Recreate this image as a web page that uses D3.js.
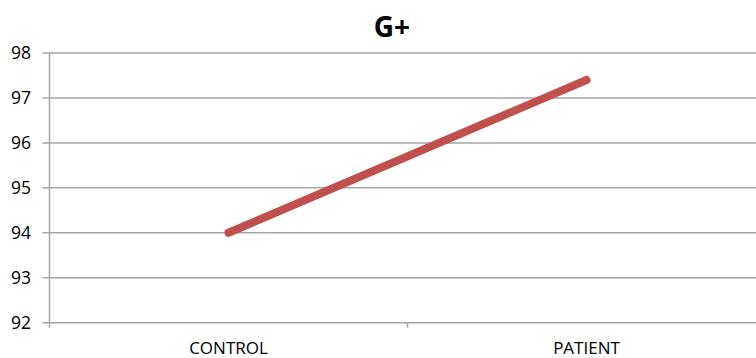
<!DOCTYPE html>
<html>
<head>
<meta charset="utf-8">
<script src="https://d3js.org/d3.v7.min.js"></script>
<style>
  body { margin: 0; background: #fff; }
  text { font-family: "Open Sans", "DejaVu Sans", sans-serif; fill: #000; }
</style>
</head>
<body>
<div id="vis"></div>
<script>
var categories = ["CONTROL", "PATIENT"];
var values = [94, 97.4];
var yTicks = [92, 93, 94, 95, 96, 97, 98];
var title = "G+";

var w = 756, h = 358;
var plotLeft = 49.5, plotRight = 765.5, plotTop = 53, plotBottom = 322.7;

var svg = d3.select("#vis").append("svg")
    .attr("width", w)
    .attr("height", h);

var x = d3.scaleBand().domain(categories).range([plotLeft, plotRight]);
var y = d3.scaleLinear().domain([92, 98]).range([plotBottom, plotTop]);

// gridlines
svg.append("g")
  .selectAll("line")
  .data(yTicks)
  .enter().append("line")
    .attr("x1", plotLeft - 7)
    .attr("x2", w)
    .attr("y1", function(d) { return y(d); })
    .attr("y2", function(d) { return y(d); })
    .attr("stroke", "#a6a6a6")
    .attr("stroke-width", 1.5);

// y axis line
svg.append("line")
    .attr("x1", plotLeft).attr("x2", plotLeft)
    .attr("y1", plotTop).attr("y2", plotBottom + 5)
    .attr("stroke", "#a6a6a6")
    .attr("stroke-width", 1.5);

// y labels
svg.append("g")
  .selectAll("text")
  .data(yTicks)
  .enter().append("text")
    .attr("x", 31)
    .attr("y", function(d) { return y(d); })
    .attr("dy", "0.35em")
    .attr("text-anchor", "end")
    .style("font-size", "17.5px")
    .text(function(d) { return d; });

// x ticks between categories
svg.append("g")
  .selectAll("line")
  .data(categories.slice(1))
  .enter().append("line")
    .attr("x1", function(d) { return x(d); })
    .attr("x2", function(d) { return x(d); })
    .attr("y1", plotBottom)
    .attr("y2", plotBottom + 5)
    .attr("stroke", "#a6a6a6")
    .attr("stroke-width", 1.5);

// x labels
svg.append("g")
  .selectAll("text")
  .data(categories)
  .enter().append("text")
    .attr("x", function(d) { return x(d) + x.bandwidth() / 2; })
    .attr("y", 354)
    .attr("text-anchor", "middle")
    .style("font-size", "17px")
    .text(function(d) { return d; });

// series line
var data = d3.zip(categories, values);
var line = d3.line()
    .x(function(d) { return x(d[0]) + x.bandwidth() / 2; })
    .y(function(d) { return y(d[1]); });

svg.append("path")
    .datum(data)
    .attr("d", line)
    .attr("fill", "none")
    .attr("stroke", "#c0504d")
    .attr("stroke-width", 8)
    .attr("stroke-linecap", "round");

// title
svg.append("text")
    .attr("x", 392)
    .attr("y", 37)
    .attr("text-anchor", "middle")
    .style("font-size", "28px")
    .style("font-weight", "bold")
    .text(title);
</script>
</body>
</html>
